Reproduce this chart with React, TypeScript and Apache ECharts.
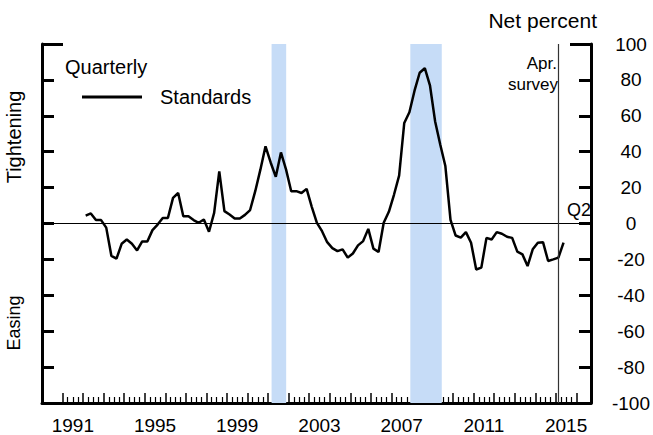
import React, { useEffect, useRef } from "react";
import * as echarts from "echarts";

// Quarterly data, first observation 1992 Q1, last 2015 Q2
const firstYear = 1992;
const standards = [
  4.4, 5.6, 1.9, 1.9, -2.3, -18, -19.6, -11.3, -8.9, -11.3,
  -15, -10, -10, -3.7, -0.6, 3.1, 3.1, 14.3, 17, 4,
  4, 1.9, 0.4, 2.2, -4.6, 5.9, 29, 6.9, 5, 2.8,
  2.8, 4.8, 7.5, 18, 30, 43, 34, 26, 39.6, 30,
  18, 18, 17, 19.3, 9.3, 0.4, -4.3, -10.4, -13.7, -15.4,
  -14.4, -19, -16.7, -12.2, -9.8, -3, -14, -15.9, 0.4, 6.5,
  16, 26.7, 56, 62, 74, 84, 86.5, 77, 57, 44,
  32, 2, -6.7, -7.9, -4.8, -10.7, -25.6, -24.6, -8, -8.9,
  -4.8, -5.7, -7.4, -8, -15.7, -17.2, -23.7, -14.4, -10.7, -10.4,
  -20.9, -20, -19, -10.7,
];
const labelYears = [1991, 1995, 1999, 2003, 2007, 2011, 2015];
const tickYears = [1991, 1992, 1993, 1994, 1995, 1996, 1997, 1998, 1999, 2000, 2001, 2002, 2003, 2004, 2005, 2006, 2007, 2008, 2009, 2010, 2011, 2012, 2013, 2014, 2015, 2016];
const recessions = [
  [2001.17, 2001.88],
  [2007.92, 2009.45],
];
const surveyDate = 2015.14;
const xMin = 1990;
const xMax = 2016.71;
const yMin = -100;
const yMax = 100;
const yStep = 20;

const FONT = "'Liberation Sans', Arial, Helvetica, sans-serif";

export default function App() {
  const ref = useRef<HTMLDivElement>(null);

  useEffect(() => {
    if (!ref.current) return;
    const chart = echarts.init(ref.current, null, { renderer: "svg" });

    const data = standards.map((v, i) => [firstYear + 0.125 + i * 0.25, v]);
    const minorTicks: number[] = [];
    for (let k = 0; k < tickYears.length - 1; k++) {
      for (let q = 1; q < 4; q++) minorTicks.push(tickYears[k] + q * 0.25);
    }
    const labelPos = labelYears.map((y) => y + 0.5);

    const txt = (
      text: string,
      x: number,
      y: number,
      size: number,
      align: string,
      rotation = 0
    ) => ({
      type: "text",
      x,
      y,
      rotation,
      silent: true,
      style: {
        text,
        fill: "#000",
        font: `${size}px ${FONT}`,
        align,
        textAlign: align,
        verticalAlign: "middle",
        textVerticalAlign: "middle",
      },
    });

    const yBase = {
      type: "value",
      min: yMin,
      max: yMax,
      splitLine: { show: false },
    };

    chart.setOption({
      animation: false,
      backgroundColor: "#fff",
      grid: { left: 42, right: 58, top: 44, bottom: 31, show: false },
      legend: {
        show: true,
        left: 82,
        top: 87,
        padding: 0,
        data: ["Standards"],
        icon: "rect",
        itemWidth: 60,
        itemHeight: 3,
        selectedMode: false,
        textStyle: {
          fontSize: 20,
          fontFamily: FONT,
          color: "#000",
          padding: [0, 0, 0, 13],
        },
      },
      xAxis: [
        {
          type: "value",
          min: xMin,
          max: xMax,
          position: "bottom",
          axisLine: { show: true, onZero: false, lineStyle: { color: "#000", width: 3 } },
          axisTick: {
            show: true,
            inside: true,
            length: 10,
            customValues: tickYears,
            lineStyle: { color: "#000", width: 1.5 },
          },
          axisLabel: {
            show: true,
            customValues: labelPos,
            formatter: (v: number) => String(Math.floor(v)),
            fontSize: 19,
            fontFamily: FONT,
            color: "#000",
            margin: 13,
          },
          splitLine: { show: false },
        },
        {
          type: "value",
          min: xMin,
          max: xMax,
          position: "bottom",
          axisLine: { show: false, onZero: false },
          axisTick: {
            show: true,
            inside: true,
            length: 6,
            customValues: minorTicks,
            lineStyle: { color: "#000", width: 1.2 },
          },
          axisLabel: { show: false },
          splitLine: { show: false },
        },
      ],
      yAxis: [
        {
          ...yBase,
          interval: yStep,
          position: "right",
          axisLine: { show: true, onZero: false, lineStyle: { color: "#000", width: 3 } },
          axisTick: { show: true, inside: true, length: 12, lineStyle: { color: "#000", width: 3 } },
          axisLabel: {
            show: true,
            align: "center",
            margin: 40,
            fontSize: 19,
            fontFamily: FONT,
            color: "#000",
          },
        },
        {
          ...yBase,
          interval: yStep,
          position: "left",
          axisLine: { show: true, onZero: false, lineStyle: { color: "#000", width: 3 } },
          axisTick: { show: true, inside: true, length: 12, lineStyle: { color: "#000", width: 3 } },
          axisLabel: { show: false },
        },
        {
          ...yBase,
          interval: yMax - yMin,
          position: "right",
          axisLine: { show: false, onZero: false },
          axisTick: { show: true, inside: true, length: 21, lineStyle: { color: "#000", width: 3 } },
          axisLabel: { show: false },
        },
        {
          ...yBase,
          interval: yMax - yMin,
          position: "left",
          axisLine: { show: false, onZero: false },
          axisTick: { show: true, inside: true, length: 21, lineStyle: { color: "#000", width: 3 } },
          axisLabel: { show: false },
        },
      ],
      series: [
        {
          name: "Standards",
          type: "line",
          xAxisIndex: 0,
          yAxisIndex: 0,
          data,
          symbol: "none",
          lineStyle: { color: "#000", width: 2.5 },
          itemStyle: { color: "#000" },
          markArea: {
            silent: true,
            itemStyle: { color: "#c6dcf7" },
            data: recessions.map(([a, b]) => [{ xAxis: a }, { xAxis: b }]),
          },
          markLine: {
            silent: true,
            symbol: ["none", "none"],
            label: { show: false },
            data: [
              { yAxis: 0, lineStyle: { color: "#000", width: 1, type: "solid" } },
              { xAxis: surveyDate, lineStyle: { color: "#333", width: 1.2, type: "solid" } },
            ],
          },
        },
      ],
      graphic: [
        txt("Net percent", 597, 20, 21, "right"),
        txt("Quarterly", 65, 67, 20, "left"),
        txt("Tightening", 14, 137, 20, "center", Math.PI / 2),
        txt("Easing", 14, 323, 18, "center", Math.PI / 2),
        txt("Apr.", 557, 63, 17, "right"),
        txt("survey", 558, 84, 17, "right"),
        txt("Q2", 567, 210, 18, "left"),
      ],
    });

    return () => chart.dispose();
  }, []);

  return (
    <div
      ref={ref}
      style={{ position: "fixed", left: 0, top: 0, width: 653, height: 435, background: "#fff" }}
    />
  );
}
